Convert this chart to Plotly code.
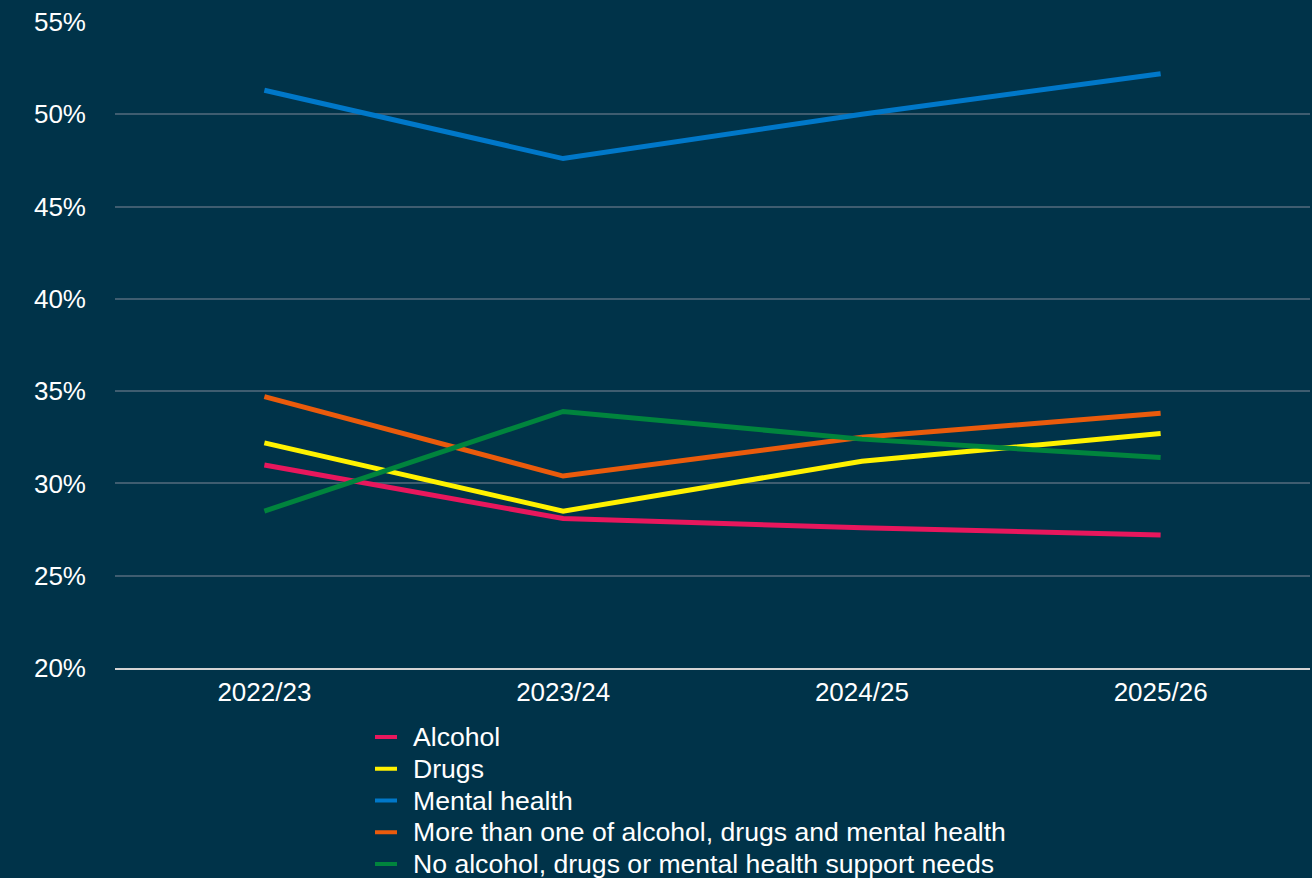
import plotly.graph_objects as go

# Financial years on the category axis
years = ["2022/23", "2023/24", "2024/25", "2025/26"]

# Share of people (%) in each support-needs group
alcohol = [31.0, 28.1, 27.6, 27.2]
drugs = [32.2, 28.5, 31.2, 32.7]
mental_health = [51.3, 47.6, 50.0, 52.2]
more_than_one = [34.7, 30.4, 32.5, 33.8]
no_needs = [28.5, 33.9, 32.4, 31.4]

y_ticks = [20, 25, 30, 35, 40, 45, 50, 55]
y_tick_labels = ["20%", "25%", "30%", "35%", "40%", "45%", "50%", "55%"]

series = [
    ("Alcohol", alcohol, "#e8175d"),
    ("Drugs", drugs, "#fff200"),
    ("Mental health", mental_health, "#0078c9"),
    ("More than one of alcohol, drugs and mental health", more_than_one, "#ea5b0c"),
    ("No alcohol, drugs or mental health support needs", no_needs, "#00843d"),
]

BG = "#003349"
FONT = "Liberation Sans, Arial, Helvetica, sans-serif"
FS = 26
LEGEND_FS = 26.6

W, H = 1312, 878
M_L, M_R, M_T, M_B = 115, 2, 22, 210
PW = W - M_L - M_R
PH = H - M_T - M_B


def px_x(px):
    return (px - M_L) / PW


def px_y(py):
    return (H - M_B - py) / PH


fig = go.Figure()
for name, values, color in series:
    fig.add_trace(go.Scatter(
        x=years, y=values, name=name, mode="lines",
        line=dict(color=color, width=5),
        showlegend=False,
        hovertemplate="%{x}: %{y:.1f}%<extra>" + name + "</extra>",
    ))

# Compact legend below the plot: short colour key + label per series
legend_top = 737
legend_step = 31.75
for i, (name, _, color) in enumerate(series):
    yc = px_y(legend_top + i * legend_step)
    fig.add_shape(
        type="line", xref="paper", yref="paper",
        x0=px_x(375), x1=px_x(397), y0=yc, y1=yc,
        line=dict(color=color, width=4),
    )
    fig.add_annotation(
        xref="paper", yref="paper", x=px_x(411), y=yc,
        xanchor="left", yanchor="middle", showarrow=False,
        text=name, font=dict(family=FONT, size=LEGEND_FS, color="#ffffff"),
    )

fig.update_layout(
    width=W, height=H,
    paper_bgcolor=BG, plot_bgcolor=BG,
    margin=dict(l=M_L, r=M_R, t=M_T, b=M_B, autoexpand=False),
    font=dict(family=FONT, size=FS, color="#ffffff"),
    showlegend=False,
)

fig.update_xaxes(
    type="category", showgrid=False, zeroline=False,
    showline=True, linecolor="#d4d4d4", linewidth=2,
    tickfont=dict(family=FONT, size=FS, color="#ffffff"),
    ticks="", range=[-0.5, 3.5], automargin=False,
)

fig.update_yaxes(
    range=[20, 55], tickvals=y_ticks, ticktext=y_tick_labels,
    showgrid=True, gridcolor="#3f5d70", gridwidth=2,
    zeroline=False, showline=False, ticks="",
    ticklabelstandoff=28, automargin=False,
    tickfont=dict(family=FONT, size=FS, color="#ffffff"),
)

fig.write_html("out.html")
